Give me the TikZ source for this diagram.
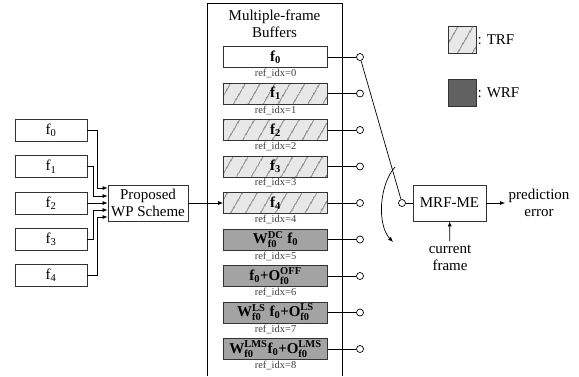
\documentclass[tikz,border=0pt]{standalone}
\usepackage{amsmath}
\usepackage{fontspec}
\setmainfont{Liberation Serif}
\usetikzlibrary{arrows.meta}
\usetikzlibrary{patterns.meta}

\newcommand{\bfx}[1]{\textbf{#1}}

\tikzset{
  frm/.style={draw=black!80,line width=0.8pt,minimum width=72pt,minimum height=22pt,inner sep=0pt},
  buf/.style={draw=black!80,line width=0.8pt,minimum width=104pt,minimum height=21pt,inner sep=0pt},
  trf/.style={buf,preaction={fill=gray!18},pattern={Lines[angle=60,distance=13pt,line width=1.3pt]},pattern color=black!45},
  wrf/.style={buf,fill=gray!72},
  blk/.style={draw=black!80,line width=0.8pt,align=center,inner sep=2pt},
  tap/.style={circle,draw,line width=0.7pt,minimum size=7pt,inner sep=0pt,fill=white},
  idx/.style={font=\fontsize{10.5}{12}\selectfont,text=black!75,inner sep=1pt},
  wire/.style={line width=0.7pt},
  feed/.style={-{Latex[length=5pt,width=4pt]},line width=0.7pt},
}

\begin{document}
\begin{tikzpicture}[x=1pt,y=-1pt,font=\fontsize{15}{17.5}\selectfont]
    \useasboundingbox (0,0) rectangle (579,376);

    \foreach \i in {0,...,4}
        \node[frm] (in\i) at (51,{203+36.25*(\i-2)}) {f\textsubscript{\i}};

    \node[blk,minimum width=80pt,minimum height=36pt] (wp) at (148,203) {Proposed\\WP Scheme};

    \draw[feed] (in0.east) -| ([xshift=-10pt,yshift=15pt]wp.west) -- ([yshift=15pt]wp.west);
    \draw[feed] (in1.east) -| ([xshift=-14pt,yshift=7pt]wp.west) -- ([yshift=7pt]wp.west);
    \draw[feed] (in2.east) -- (wp.west);
    \draw[feed] (in3.east) -| ([xshift=-14pt,yshift=-7pt]wp.west) -- ([yshift=-7pt]wp.west);
    \draw[feed] (in4.east) -| ([xshift=-10pt,yshift=-14pt]wp.west) -- ([yshift=-14pt]wp.west);

    % buffer column
    \draw[line width=0.8pt] (207,376) |- (342,3) -- (342,376);
    \node[align=center] (title) at (274.5,24) {Multiple-frame\\Buffers};

    \foreach \i/\sty/\txt in {
        0/buf/{$\bfx{f}_{\bfx{0}}$},
        1/trf/{$\bfx{f}_{\bfx{1}}$},
        2/trf/{$\bfx{f}_{\bfx{2}}$},
        3/trf/{$\bfx{f}_{\bfx{3}}$},
        4/trf/{$\bfx{f}_{\bfx{4}}$},
        5/wrf/{$\bfx{W}^{\bfx{DC}}_{\bfx{f0}}\;\bfx{f}_{\bfx{0}}$},
        6/wrf/{$\bfx{f}_{\bfx{0}}\bfx{+}\bfx{O}^{\bfx{OFF}}_{\bfx{f0}}$},
        7/wrf/{$\bfx{W}^{\bfx{LS}}_{\bfx{f0}}\;\bfx{f}_{\bfx{0}}\bfx{+}\bfx{O}^{\bfx{LS}}_{\bfx{f0}}$},
        8/wrf/{$\bfx{W}^{\bfx{LMS}}_{\bfx{f0}}\bfx{f}_{\bfx{0}}\bfx{+}\bfx{O}^{\bfx{LMS}}_{\bfx{f0}}$}}
    {
        \node[\sty] (buf\i) at (275.5,{57+36.5*\i}) {\txt};
        \node[idx,anchor=north] (lbl\i) at (buf\i.south) {ref\_idx=\i};
        \node[tap] (sw\i) at (360,{57+36.5*\i}) {};
        \draw[wire] (buf\i) -- (sw\i);
    }

    \draw[feed] (wp.east) -- (buf4.west);

    % switch and motion estimation
    \node[blk,minimum width=73pt,minimum height=36pt] (mrf) at (449.5,203) {MRF-ME};
    \node[tap] (mrfin) at (402,203) {};
    \draw[wire] (sw0) -- (mrfin);
    \draw[wire] (mrfin) -- (mrf);

    \coordinate (arcA) at (395,167);
    \coordinate (arcB) at (393,242);
    \draw[feed] (arcA) .. controls (379,185) and (377,225) .. (arcB);

    \node[align=center] (pred) at (539,203) {prediction\\error};
    \draw[feed] (mrf) -- (pred);
    \node[align=center] (cur) at (450,258) {current\\frame};
    \draw[feed] (cur) -- (mrf);

    % legend
    \node[trf,minimum width=28pt,minimum height=27pt] (trfkey) at (462,39.5) {};
    \node[anchor=west,inner sep=1pt] (trflbl) at (trfkey.east) {: TRF};
    \node[buf,fill=black!62,minimum width=28pt,minimum height=27pt] (wrfkey) at (462,92.5) {};
    \node[anchor=west,inner sep=1pt] (wrflbl) at (wrfkey.east) {: WRF};
\end{tikzpicture}
\end{document}
